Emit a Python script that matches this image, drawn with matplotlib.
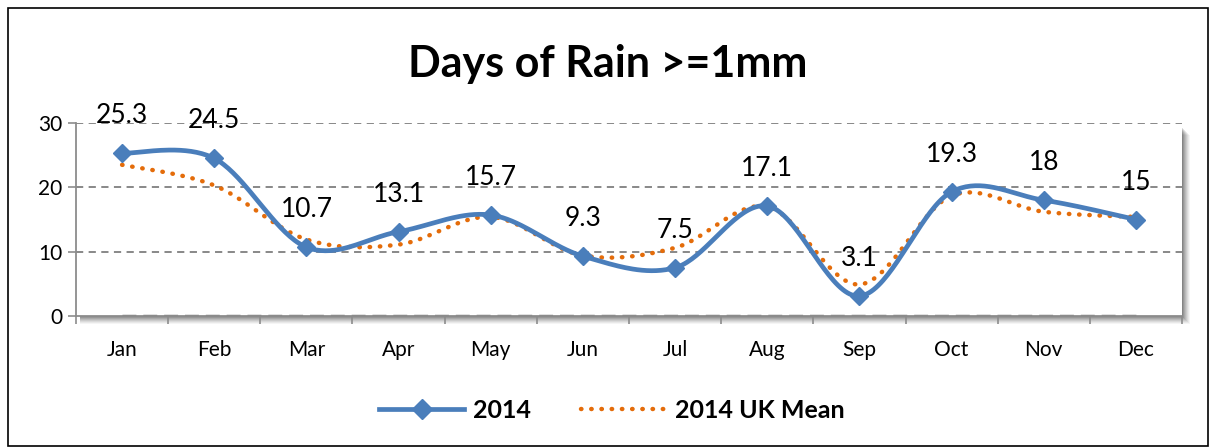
import numpy as np
import matplotlib
matplotlib.use("Agg")
import matplotlib.pyplot as plt
from matplotlib.patches import Rectangle
from matplotlib.lines import Line2D

plt.rcParams['font.family'] = ['Lato', 'DejaVu Sans']

# ============================================================
#  Data
# ============================================================
months = ["Jan", "Feb", "Mar", "Apr", "May", "Jun",
          "Jul", "Aug", "Sep", "Oct", "Nov", "Dec"]
rain_2014 = [25.3, 24.5, 10.7, 13.1, 15.7, 9.3, 7.5, 17.1, 3.1, 19.3, 18, 15]
uk_mean = [23.5, 20.3, 11.9, 11.1, 15.4, 9.4, 10.6, 17.0, 4.9, 18.7, 16.2, 15.4]
baseline = [0] * 12
yticks = [0, 10, 20, 30]

blue = "#4A7EBB"
orange = "#E46C0A"


def smooth(xs, ys, n=40):
    """Excel-style smoothed line: cubic Bezier with Catmull-Rom control points."""
    xs = np.asarray(xs, float)
    ys = np.asarray(ys, float)
    px, py = [], []
    for i in range(len(xs) - 1):
        x0, y0 = (xs[i - 1], ys[i - 1]) if i > 0 else (xs[i], ys[i])
        x3, y3 = (xs[i + 2], ys[i + 2]) if i + 2 < len(xs) else (xs[i + 1], ys[i + 1])
        x1, y1 = xs[i], ys[i]
        x2, y2 = xs[i + 1], ys[i + 1]
        c1x, c1y = x1 + (x2 - x0) / 6, y1 + (y2 - y0) / 6
        c2x, c2y = x2 - (x3 - x1) / 6, y2 - (y3 - y1) / 6
        t = np.linspace(0, 1, n)
        bx = (1-t)**3*x1 + 3*(1-t)**2*t*c1x + 3*(1-t)*t**2*c2x + t**3*x2
        by = (1-t)**3*y1 + 3*(1-t)**2*t*c1y + 3*(1-t)*t**2*c2y + t**3*y2
        px.extend(bx); py.extend(by)
    return np.array(px), np.array(py)


W, H = 1210, 448
fig = plt.figure(figsize=(W / 100, H / 100), dpi=100)

# outer chart border
fig.patches.append(Rectangle((8 / W, 2 / H), (W - 10) / W, (H - 10) / H,
                             transform=fig.transFigure, fill=False,
                             edgecolor="black", lw=1.2))

# plot area
ax_l, ax_r, ax_b, ax_t = 76, 1182, 316, 123
ax = fig.add_axes([ax_l / W, (H - ax_b) / H, (ax_r - ax_l) / W, (ax_b - ax_t) / H])
ax.set_zorder(2)

# soft shadow behind the plot area (right and bottom)
for k, a in zip(range(8, 0, -1), [0.04, 0.05, 0.06, 0.07, 0.08, 0.09, 0.1, 0.12]):
    fig.patches.append(Rectangle(((ax_l + 4) / W, (H - ax_b - k) / H),
                                 (ax_r - ax_l - 4 + k) / W, (ax_b - ax_t - 4) / H,
                                 transform=fig.transFigure, facecolor="black",
                                 edgecolor="none", alpha=a, zorder=0))

x = np.arange(len(months))

for yv in yticks[1:]:
    ax.axhline(yv, color="#7F7F7F", ls=(0, (4, 3)), lw=1.3, zorder=1)
ax.plot(x, baseline, color="#7F7F7F", ls=(0, (4, 2)), lw=2.5, zorder=1)

sx, sy = smooth(x, uk_mean)
ax.plot(sx, sy, color=orange, lw=3.2, ls=(0, (0.1, 2.2)),
        dash_capstyle="round", zorder=3)

sx, sy = smooth(x, rain_2014)
ax.plot(sx, sy, color=blue, lw=3.4, solid_capstyle="round", zorder=4)
ax.plot(x, rain_2014, ls="none", marker="D", ms=9.5, color=blue, zorder=5)

for xi, v in zip(x, rain_2014):
    ax.annotate(f"{v:g}", (xi, v), xytext=(0, 27), textcoords="offset points",
                ha="center", va="center", fontsize=19, color="black",
                annotation_clip=False, zorder=6)

ax.set_xlim(-0.5, len(months) - 0.5)
ax.set_ylim(0, 30)
ax.set_yticks(yticks)
ax.set_xticks(np.arange(-0.5, len(months), 1.0))
ax.set_xticklabels([])
ax.set_xticks(x, minor=True)
ax.set_xticklabels(months, minor=True)
ax.tick_params(axis="x", which="major", length=6, color="#8C8C8C", width=1.2)
ax.tick_params(axis="x", which="minor", length=0, pad=17, labelsize=15)
ax.tick_params(axis="y", length=6, color="#8C8C8C", width=1.2, labelsize=15, pad=4)

for side in ["top", "right"]:
    ax.spines[side].set_visible(False)
for side in ["left", "bottom"]:
    ax.spines[side].set_color("#8C8C8C")
    ax.spines[side].set_linewidth(1.3)

fig.text(608 / W, (H - 64) / H, "Days of Rain >=1mm", ha="center", va="center",
         fontsize=31, fontweight="bold")

handles = [Line2D([], [], color=blue, lw=3.4, marker="D", ms=10),
           Line2D([], [], color=orange, lw=3.2, ls=(0, (0.1, 2.2)),
                  dash_capstyle="round")]
fig.legend(handles, ["2014", "2014 UK Mean"], loc="center",
           bbox_to_anchor=(612 / W, (H - 410) / H), ncol=2, frameon=False,
           prop={"size": 18, "weight": "bold"}, handlelength=3.4,
           columnspacing=2.0, handletextpad=0.35)

fig.savefig("out.png", dpi=100)
